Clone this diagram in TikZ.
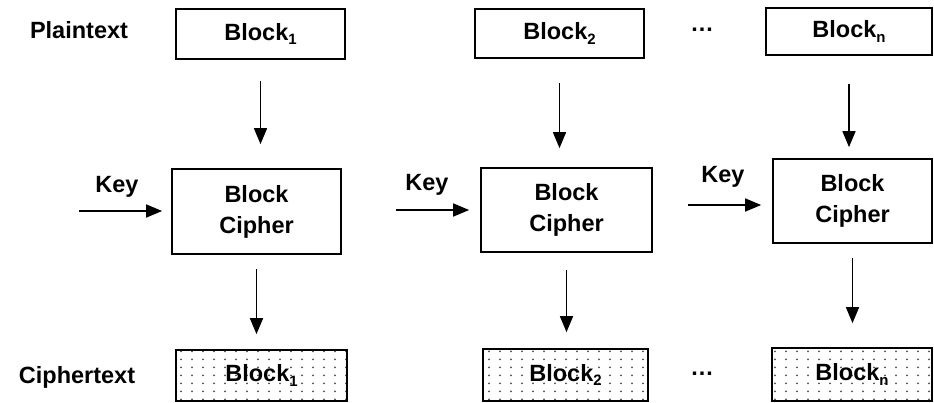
\documentclass[tikz,border=0pt]{standalone}
\usepackage{fontspec}
\setmainfont{Liberation Sans}
\usepackage{tikz}
\usetikzlibrary{arrows.meta}
\usetikzlibrary{patterns.meta}
\usetikzlibrary{positioning}
\tikzdeclarepattern{name = celldots, type = uncolored,
                    bottom left = {(0pt, 0pt)}, top right = {(11pt, 8pt)},
                    tile size = {(11pt, 8pt)},
                    code = {\fill (5.5pt, 4pt) circle [radius = 1.1pt];}}
\tikzset{arr/.style = {-{Triangle[length = 16pt, width = 13pt]}, line width = 1.6pt}}
\tikzset{blk/.style = {draw, line width = 1.7pt, inner sep = 0, align = center}}
\tikzset{ct/.style = {blk, pattern = celldots, pattern color = black!70}}
\newcommand{\blocksub}[1]{Block\raisebox{-4.5pt}{\fontsize{15}{15}\selectfont #1}}

\begin{document}
\begin{tikzpicture}[x = 1pt, y = -1pt, font = \fontsize{23.5}{31}\selectfont\bfseries]
      \useasboundingbox (0, 0) rectangle (934, 402);

      \node (plain) at (79, 30) {Plaintext};
      \node [blk, minimum width = 169pt, minimum height = 50pt] (b1) at (260.5, 34) {\blocksub{1}};
      \node [blk, minimum width = 169pt, minimum height = 49pt] (b2) at (559.5, 33.5) {\blocksub{2}};
      \node (dtop) at (702, 30) {…};
      \node [blk, minimum width = 166pt, minimum height = 47pt] (bn) at (849, 31.5) {\blocksub{n}};

      \node [blk, minimum width = 169pt, minimum height = 85pt] (c1) at (256.5, 211.5) {Block\\Cipher};
      \node [blk, minimum width = 171pt, minimum height = 84pt] (c2) at (566.5, 210) {Block\\Cipher};
      \node [blk, minimum width = 159pt, minimum height = 84pt] (c3) at (852.5, 201) {Block\\Cipher};

      \node (key1) at (117, 187) {Key};
      \node (key2) at (427, 185) {Key};
      \node (key3) at (723, 177) {Key};
      \coordinate (k1) at (79, 211);
      \coordinate (k2) at (396, 210);
      \coordinate (k3) at (688, 205);
      \draw [arr, shorten >= 9pt] (k1) -- (k1 -| c1.west);
      \draw [arr, shorten >= 11pt] (k2) -- (k2 -| c2.west);
      \draw [arr, shorten >= 11pt] (k3) -- (k3 -| c3.west);

      \node (ciph) at (77, 377) {Ciphertext};
      \node [ct, minimum width = 171pt, minimum height = 51pt] (d1) at (261.5, 375.5) {\blocksub{1}};
      \node [ct, minimum width = 165pt, minimum height = 52pt] (d2) at (565.5, 375) {\blocksub{2}};
      \node (dbot) at (702, 374) {…};
      \node [ct, minimum width = 160pt, minimum height = 53pt] (dn) at (852, 374.5) {\blocksub{n}};

      \draw [arr, shorten <= 21pt, shorten >= 24pt] (b1.south) -- (b1.south |- c1.north);
      \draw [arr, shorten <= 24pt, shorten >= 19pt] (b2.south) -- (b2.south |- c2.north);
      \draw [arr, shorten <= 28pt, shorten >= 11pt] (bn.south) -- (bn.south |- c3.north);
      \draw [arr, shorten <= 14pt, shorten >= 15pt] (c1.south) -- (c1.south |- d1.north);
      \draw [arr, shorten <= 17pt, shorten >= 16pt] (c2.south) -- (c2.south |- d2.north);
      \draw [arr, shorten <= 14pt, shorten >= 24pt] (c3.south) -- (c3.south |- dn.north);
    \end{tikzpicture}
\end{document}
